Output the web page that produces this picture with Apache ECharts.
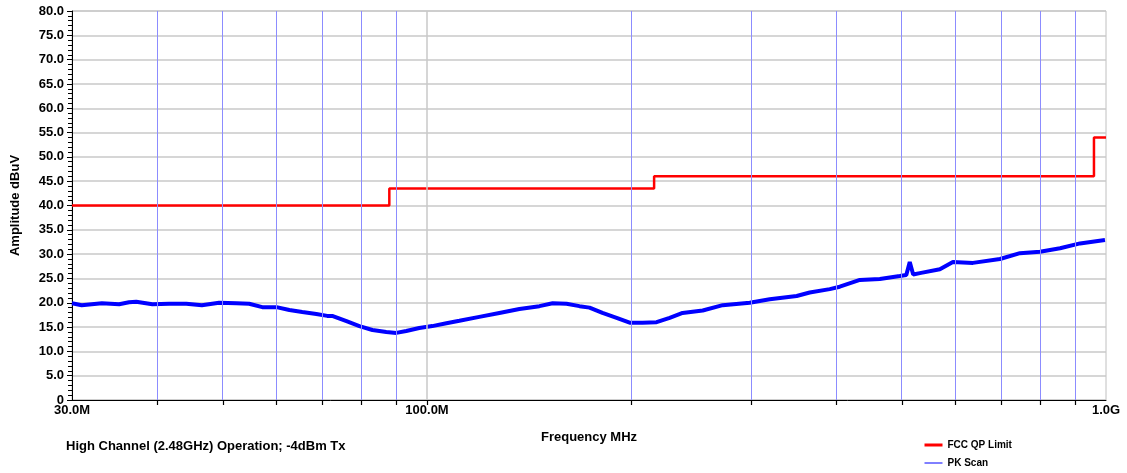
<!DOCTYPE html>
<html>
<head>
<meta charset="utf-8">
<script src="https://cdn.jsdelivr.net/npm/echarts@6/dist/echarts.min.js"></script>
<style>html,body{margin:0;padding:0;background:#fff}#c{width:1127px;height:473px}</style>
</head>
<body>
<div id="c"></div>
<script>
// Limit line (FCC QP Limit), step changes at these frequencies (MHz)
const limitFreqs  = [30, 88, 216, 960, 1000];
const limitLevels = [40, 43.5, 46, 54, 54];

// PK Scan trace (MHz, dBuV)
const scanFreqs = [30.0, 31.0, 33.2, 35.2, 36.4, 37.3, 39.4, 41.7, 44.2, 46.6, 49.4, 52.4, 54.7, 57.2, 60.0,
  62.7, 65.5, 68.7, 71.3, 72.5, 76.1, 79.5, 83.1, 87.1, 90.1, 93.2, 97.4, 101.8, 106.8, 111.6,
  119.4, 127.8, 136.8, 146.4, 153.1, 160.5, 167.7, 173.5, 181.3, 190.2, 198.8, 207.7, 217.8, 227.7,
  237.9, 254.7, 272.6, 298.7, 319.7, 350.3, 366.1, 391.9, 405.4, 434.0, 464.4, 496.9, 508, 514, 520,
  531.9, 569.3, 595.0, 636.8, 698.0, 746.9, 799.5, 855.7, 915.7, 996.5];
const scanLevels = [19.9, 19.5, 19.9, 19.7, 20.1, 20.2, 19.7, 19.8, 19.8, 19.5, 20.0, 19.9, 19.8, 19.1, 19.1,
  18.5, 18.1, 17.7, 17.3, 17.3, 16.2, 15.2, 14.4, 14.0, 13.8, 14.2, 14.8, 15.2, 15.8, 16.3,
  17.1, 17.9, 18.7, 19.3, 19.9, 19.8, 19.3, 19.0, 17.9, 16.9, 15.9, 15.9, 16.0, 16.9,
  17.9, 18.4, 19.5, 20.0, 20.7, 21.4, 22.1, 22.8, 23.3, 24.7, 24.9, 25.5, 25.7, 28.4, 25.8,
  26.1, 26.9, 28.4, 28.2, 29.0, 30.2, 30.5, 31.2, 32.2, 32.9];

// Vertical grid frequencies
const gridBlue = [40, 50, 60, 70, 80, 90, 200, 300, 400, 500, 600, 700, 800, 900];
const gridGray = [100];
const xTickValues = [40, 50, 60, 70, 80, 90, 100, 200, 300, 400, 500, 600, 700, 800, 900];

const FONT = '"Liberation Sans", Arial, sans-serif';

const chart = echarts.init(document.getElementById('c'));
chart.setOption({
  animation: false,
  grid: { left: 72, right: 21, top: 11, bottom: 73, show: true, borderColor: '#c0c0c0', borderWidth: 1 },
  title: {
    text: 'High Channel (2.48GHz) Operation; -4dBm Tx',
    left: 61, top: 435,
    textStyle: { fontFamily: FONT, fontWeight: 'bold', fontSize: 13, color: '#000' }
  },
  legend: {
    left: 918, top: 435, orient: 'vertical', itemGap: 8, itemWidth: 18, itemHeight: 10,
    textStyle: { fontFamily: FONT, fontWeight: 'bold', fontSize: 10, color: '#000' },
    data: [
      { name: 'FCC QP Limit', lineStyle: { width: 3, color: '#ff0000' }, itemStyle: { opacity: 0 } },
      { name: 'PK Scan', lineStyle: { width: 1, color: '#0000ff' }, itemStyle: { opacity: 0 } }
    ]
  },
  xAxis: {
    type: 'log', logBase: 10, min: 30, max: 1000,
    name: 'Frequency MHz', nameLocation: 'middle', nameGap: 31,
    nameTextStyle: { fontFamily: FONT, fontWeight: 'bold', fontSize: 13, color: '#000' },
    axisLine: { show: true, lineStyle: { color: '#000', width: 1 } },
    axisTick: { show: false },
    axisLabel: {
      margin: 4, fontFamily: FONT, fontWeight: 'bold', fontSize: 13, color: '#000',
      showMinLabel: true, showMaxLabel: true,
      formatter: v => v >= 999 ? (v / 1000).toFixed(1) + 'G' : v.toFixed(1) + 'M'
    },
    splitLine: { show: false },
    minorTick: { show: false }
  },
  yAxis: {
    type: 'value', min: 0, max: 80, interval: 5,
    name: 'Amplitude dBuV', nameLocation: 'middle', nameGap: 50,
    nameTextStyle: { fontFamily: FONT, fontWeight: 'bold', fontSize: 13, color: '#000' },
    axisLine: { show: true, lineStyle: { color: '#000', width: 1 } },
    axisTick: { show: true, length: 5, lineStyle: { color: '#000' } },
    minorTick: { show: true, splitNumber: 5, length: 4, lineStyle: { color: '#000' } },
    axisLabel: {
      margin: 8, fontFamily: FONT, fontWeight: 'bold', fontSize: 13, color: '#000',
      formatter: v => v === 0 ? '0' : v.toFixed(1)
    },
    splitLine: { show: true, lineStyle: { color: '#c8c8c8', width: 1.5 } }
  },
  series: [
    {
      name: 'PK Scan', type: 'line', showSymbol: false, symbol: 'none',
      lineStyle: { color: '#0000ff', width: 4 }, itemStyle: { color: '#0000ff' },
      data: scanFreqs.map((f, i) => [f, scanLevels[i]]),
      z: 3,
      markLine: {
        silent: true, symbol: 'none', label: { show: false }, animation: false,
        data: gridBlue.map(v => ({ xAxis: v, lineStyle: { color: '#8c8cff', width: 1, type: 'solid' } }))
          .concat(gridGray.map(v => ({ xAxis: v, lineStyle: { color: '#c8c8c8', width: 1.5, type: 'solid' } })))
      }
    },
    {
      name: 'FCC QP Limit', type: 'line', step: 'end', showSymbol: false, symbol: 'none',
      lineStyle: { color: '#ff0000', width: 2.5 }, itemStyle: { color: '#ff0000' },
      data: limitFreqs.map((f, i) => [f, limitLevels[i]]),
      z: 4
    },
    {
      // bottom-axis tick marks at 40..90, 100, 200..900 MHz
      name: 'ticks', type: 'custom', silent: true, clip: false, z: 10,
      data: xTickValues.map(v => [v, 0]),
      encode: { x: 0, y: 1 },
      renderItem: (params, api) => {
        const p = api.coord([api.value(0), 0]);
        const x = Math.round(p[0]) + 0.5;
        return { type: 'line', shape: { x1: x, y1: p[1], x2: x, y2: p[1] + 5 },
          style: { stroke: '#000', lineWidth: 1.2 } };
      }
    }
  ]
});
</script>
</body>
</html>
